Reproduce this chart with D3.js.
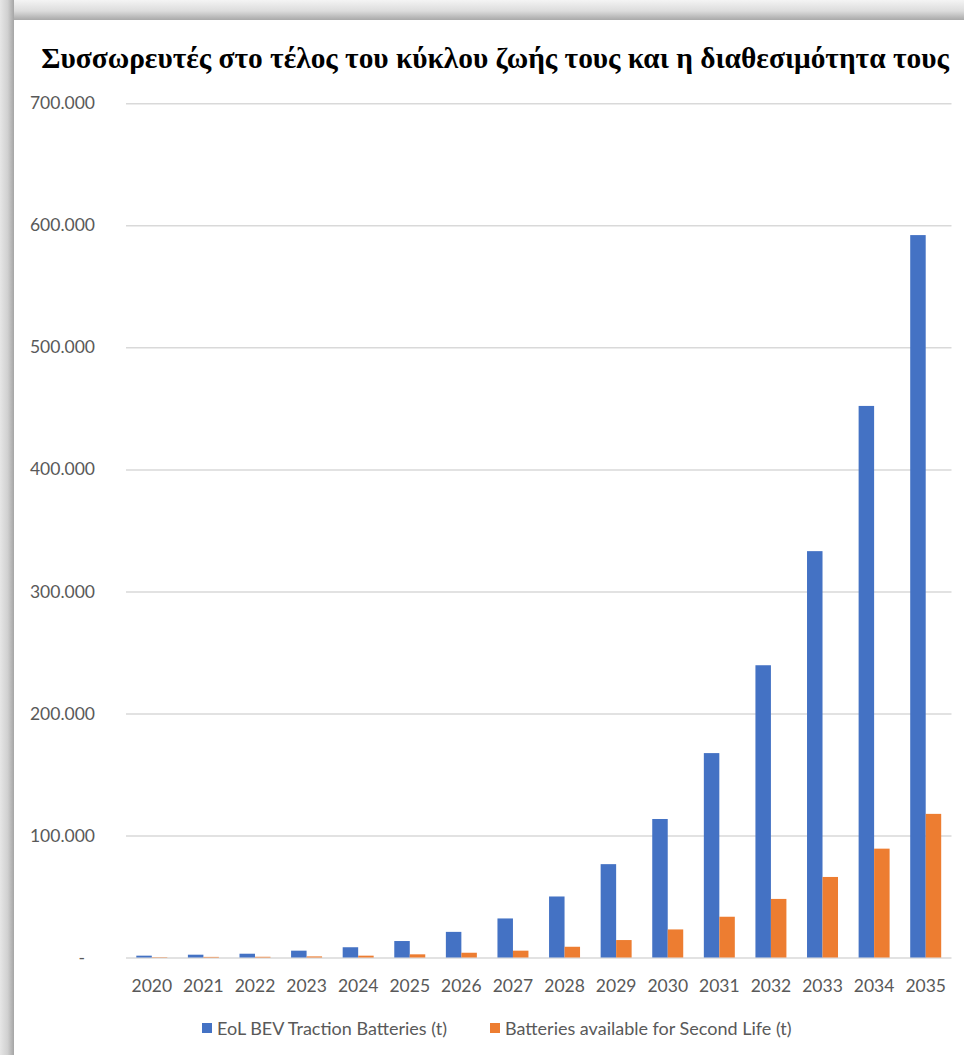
<!DOCTYPE html>
<html>
<head>
<meta charset="utf-8">
<script src="https://cdn.jsdelivr.net/npm/d3@7"></script>
<style>
  html, body { margin: 0; padding: 0; background: #ffffff; }
  svg { display: block; }
</style>
</head>
<body>
<svg id="chart" width="964" height="1055"></svg>
<script>
// Chart data
const years = ["2020","2021","2022","2023","2024","2025","2026","2027","2028","2029","2030","2031","2032","2033","2034","2035"];
const eolBatteries = [1500, 2300, 3100, 5600, 8400, 13500, 21000, 32000, 50000, 76500, 113500, 167500, 239500, 333000, 452000, 592000];
const secondLife = [300, 500, 600, 900, 1500, 2600, 3900, 5600, 8800, 14300, 23000, 33400, 48000, 66000, 89200, 117700];
const seriesNames = ["EoL BEV Traction Batteries (t)", "Batteries available for Second Life (t)"];
const yTicks = [0, 100000, 200000, 300000, 400000, 500000, 600000, 700000];
const titleText = "Συσσωρευτές στο τέλος του κύκλου ζωής τους και η διαθεσιμότητα τους";

const colors = ["#4472C4", "#ED7D31"];
const labelColor = "#595959";
const labelFont = "Lato, 'Open Sans', sans-serif";

const svg = d3.select("#chart");
const W = 964, H = 1055;

// Card frame with soft grey shadow on top and left
const defs = svg.append("defs");
const gTop = defs.append("linearGradient").attr("id", "shadeTop")
  .attr("x1", 0).attr("y1", 0).attr("x2", 0).attr("y2", 1);
gTop.append("stop").attr("offset", "0%").attr("stop-color", "#f4f4f4");
gTop.append("stop").attr("offset", "55%").attr("stop-color", "#dcdcdc");
gTop.append("stop").attr("offset", "100%").attr("stop-color", "#a9a9a9");
const gLeft = defs.append("linearGradient").attr("id", "shadeLeft")
  .attr("x1", 0).attr("y1", 0).attr("x2", 1).attr("y2", 0);
gLeft.append("stop").attr("offset", "0%").attr("stop-color", "#e6e6e6");
gLeft.append("stop").attr("offset", "55%").attr("stop-color", "#d0d0d0");
gLeft.append("stop").attr("offset", "100%").attr("stop-color", "#a5a5a5");

svg.append("rect").attr("x", 0).attr("y", 0).attr("width", W).attr("height", 20).attr("fill", "url(#shadeTop)");
svg.append("rect").attr("x", 0).attr("y", 0).attr("width", 14).attr("height", H).attr("fill", "url(#shadeLeft)");
svg.append("rect").attr("x", 14).attr("y", 20).attr("width", W - 14).attr("height", H - 20).attr("fill", "#ffffff");

// Title
svg.append("text")
  .attr("x", 495).attr("y", 68)
  .attr("text-anchor", "middle")
  .attr("font-family", "'Liberation Serif', 'Times New Roman', serif")
  .attr("font-weight", "bold")
  .attr("font-size", 29.4)
  .attr("fill", "#000000")
  .text(titleText);

// Scales
const plotLeft = 126, plotRight = 951.5, plotBottom = 957.5, plotTop = 103.3;
const x = d3.scaleBand().domain(years).range([plotLeft, plotRight]).paddingInner(0).paddingOuter(0);
const xSeries = d3.scaleBand().domain([0, 1]).range([0, x.bandwidth()]).paddingInner(0).paddingOuter(0.665);
const y = d3.scaleLinear().domain([0, 700000]).range([plotBottom, plotTop]);

const locale = d3.formatLocale({ decimal: ",", thousands: ".", grouping: [3], currency: ["", ""] });
const fmt = locale.format(",d");

// Gridlines and y labels
const yAxis = d3.axisLeft(y)
  .tickValues(yTicks)
  .tickSize(-(plotRight - plotLeft))
  .tickPadding(31)
  .tickFormat(d => d === 0 ? "-" : fmt(d));

const yG = svg.append("g").attr("transform", `translate(${plotLeft},0)`).call(yAxis);
yG.select(".domain").remove();
yG.selectAll(".tick line").attr("stroke", "#d9d9d9").attr("stroke-width", 1.5);
yG.selectAll(".tick text")
  .attr("fill", labelColor)
  .attr("font-family", labelFont)
  .attr("font-size", 17.5)
  .attr("dx", d => d === 0 ? -10 : 0);

// Bars
const series = [eolBatteries, secondLife];
series.forEach((vals, si) => {
  svg.append("g").selectAll("rect")
    .data(years.map((yr, i) => ({ yr, v: vals[i] })))
    .join("rect")
    .attr("x", d => x(d.yr) + xSeries(si))
    .attr("width", xSeries.bandwidth())
    .attr("y", d => y(d.v))
    .attr("height", d => y(0) - y(d.v))
    .attr("fill", colors[si]);
});

// X axis labels
const xAxis = d3.axisBottom(x).tickSize(0).tickPadding(22);
const xG = svg.append("g").attr("transform", `translate(0,${plotBottom})`).call(xAxis);
xG.select(".domain").remove();
xG.selectAll(".tick text")
  .attr("fill", labelColor)
  .attr("font-family", labelFont)
  .attr("font-size", 17.5);

// Legend
const legendItems = [
  { name: seriesNames[0], color: colors[0], x: 202 },
  { name: seriesNames[1], color: colors[1], x: 490 }
];
const lg = svg.append("g");
legendItems.forEach(it => {
  lg.append("rect").attr("x", it.x).attr("y", 1023).attr("width", 10).attr("height", 10).attr("fill", it.color);
  lg.append("text")
    .attr("x", it.x + 15).attr("y", 1028)
    .attr("dominant-baseline", "central")
    .attr("fill", labelColor)
    .attr("font-family", labelFont)
    .attr("font-size", 18)
    .text(it.name);
});
</script>
</body>
</html>
